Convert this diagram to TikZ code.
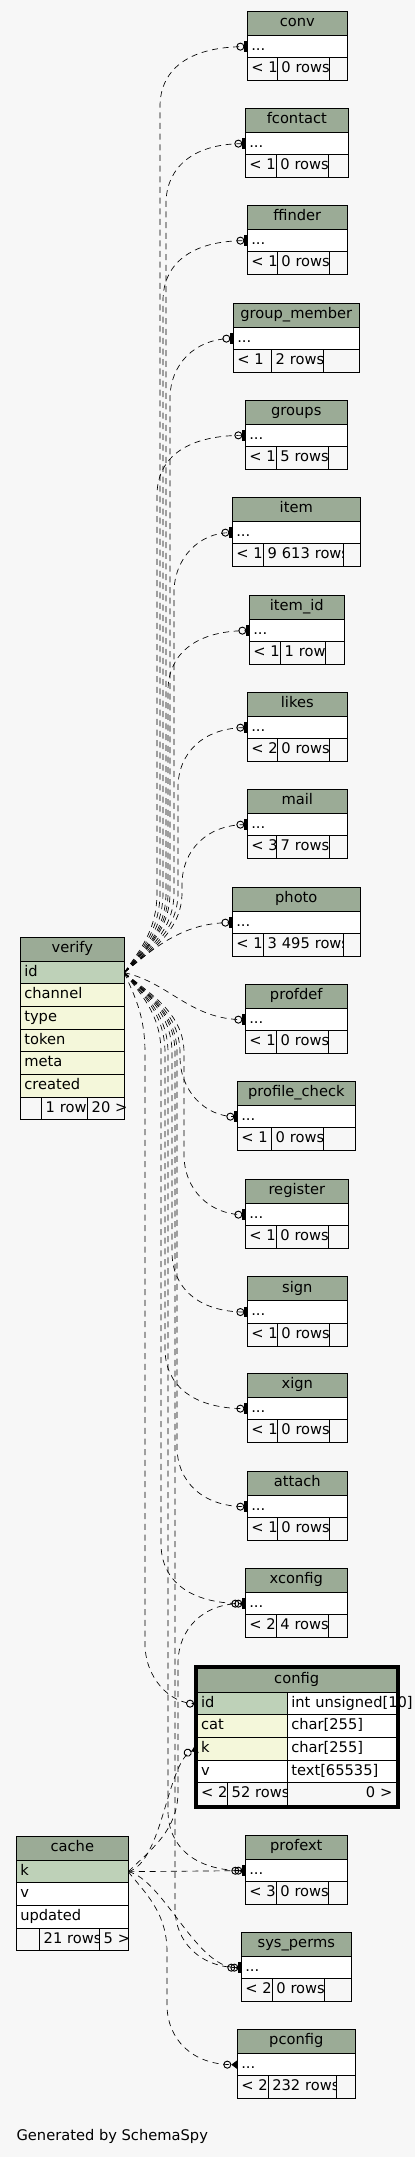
\documentclass[tikz,border=0pt]{standalone}
\usepackage{fontspec}
\setmainfont{DejaVu Sans}
\usetikzlibrary{arrows.meta,positioning,calc}

\definecolor{pagebg}{HTML}{F7F7F7}
\definecolor{headbg}{HTML}{9BAB96}
\definecolor{keybg}{HTML}{BED1B8}
\definecolor{idxbg}{HTML}{F4F7DA}

% child table: name, title, left, top, footer cell widths (px), parents, rows
\newcommand{\minitable}[9]{%
  \node[hdr, minimum width={(#5+#6+#7)*0.75pt}, anchor=north west] (#1) at (#3,#4) {#2};
  \node[cell, wide={#5+#6+#7}, below=0pt of #1] (#1-r) {...};
  \node[foot, wide=#5, anchor=north west] (#1-p) at (#1-r.south west) {\mbox{< #8}};
  \node[foot, wide=#6, right=0pt of #1-p] (#1-n) {\mbox{#9}};
  \node[foot, wide=#7, right=0pt of #1-n] (#1-c) {};
}

\begin{document}
\begin{tikzpicture}[x=0.75pt, y=-0.75pt, font=\fontsize{11}{13}\selectfont,
  box/.style={draw, line width=0.75pt, outer sep=0pt, inner xsep=3pt, inner ysep=0pt, text height=8pt, text depth=2.5pt},
  hdr/.style={box, fill=headbg, minimum height=18pt},
  cell/.style={box, fill=white, minimum height=17pt, align=left},
  foot/.style={cell, fill=pagebg},
  wide/.style={text width={(#1)*0.75pt-6pt}},
  fk/.style={draw, line width=0.5pt, dash pattern=on 4.5pt off 3.5pt, -{Circle[open,length=6pt,line width=0.7pt] Bar[width=8pt,line width=2.2pt]}},
  crow/.style={-{Circle[open,length=6pt,line width=0.7pt] Triangle[reversed,length=4.5pt,width=6.5pt]}},
  hop/.style 2 args={to path={.. controls +(#1) and +(#2) .. (\tikztotarget)}},
  bus/.style={to path={let \p1=(\tikztostart), \p2=(\tikztotarget), \n1={2*(\y2>\y1)-1} in
      .. controls ({0.6*\x1+0.3*#1pt},{\y1+(\n1)*15pt}) and ({0.75*#1pt},{\y1+(\n1)*30pt}) .. ({0.75*#1pt},{\y1+(\n1)*60pt})
      -- ({0.75*#1pt},{\y2-(\n1)*45pt})
      .. controls ({0.75*#1pt},{\y2-(\n1)*19pt}) and ({0.75*#1pt+19pt},\y2) .. (\p2)}}]

  \useasboundingbox (0,0) rectangle (415,2157);
  \fill[pagebg] (0,0) rectangle (415,2157);

  % children of verify and cache
  \minitable{conv}{conv}{247.3}{11.3}{30}{52}{18}{1}{0 rows}
  \minitable{fcontact}{fcontact}{245.3}{108.3}{31}{52}{20}{1}{0 rows}
  \minitable{ffinder}{ffinder}{247.3}{205.3}{30}{52}{18}{1}{0 rows}
  \minitable{gm}{group\_member}{233.3}{303.3}{38.4}{52}{35.6}{1}{2 rows}
  \minitable{groups}{groups}{245.3}{400}{31}{52}{19}{1}{5 rows}
  \minitable{item}{item}{232.3}{497.3}{31.4}{80}{16.6}{1}{9 613 rows}
  \minitable{itemid}{item\_id}{249.3}{595.3}{31.4}{44.6}{19}{1}{1 row}
  \minitable{likes}{likes}{247.3}{692.3}{30}{52}{18}{2}{0 rows}
  \minitable{mail}{mail}{247.3}{789.3}{29.4}{52.6}{18}{3}{7 rows}
  \minitable{photo}{photo}{232.3}{887.3}{31.4}{80}{16.6}{1}{3 495 rows}
  \minitable{profdef}{profdef}{245.3}{984.3}{31.4}{51.6}{19}{1}{0 rows}
  \minitable{pcheck}{profile\_check}{237.3}{1081.3}{34.4}{51.6}{32}{1}{0 rows}
  \minitable{register}{register}{245.3}{1179.3}{31}{52}{20}{1}{0 rows}
  \minitable{sign}{sign}{247.3}{1276.7}{30}{52}{18}{1}{0 rows}
  \minitable{xign}{xign}{247.3}{1373.3}{30}{52}{18}{1}{0 rows}
  \minitable{attach}{attach}{247.3}{1471.3}{30}{52}{18}{1}{0 rows}
  \minitable{xconfig}{xconfig}{245.3}{1568.3}{31}{52}{19}{2}{4 rows}
  \minitable{profext}{profext}{245.3}{1835.3}{31}{52}{19}{3}{0 rows}
  \minitable{sysperms}{sys\_perms}{241.3}{1932.3}{31}{52}{27}{2}{0 rows}
  \minitable{pconfig}{pconfig}{237.3}{2029.3}{31}{68}{19}{2}{232 rows}

  % verify
  \node[hdr, minimum width={104*0.75pt}, anchor=north west] (verify) at (20.3,937.3) {verify};
  \node[cell, wide=104, fill=keybg, below=0pt of verify] (verify-id) {id};
  \node[cell, wide=104, fill=idxbg, below=0pt of verify-id] (verify-channel) {channel};
  \node[cell, wide=104, fill=idxbg, below=0pt of verify-channel] (verify-type) {type};
  \node[cell, wide=104, fill=idxbg, below=0pt of verify-type] (verify-token) {token};
  \node[cell, wide=104, fill=idxbg, below=0pt of verify-token] (verify-meta) {meta};
  \node[cell, wide=104, fill=idxbg, below=0pt of verify-meta] (verify-created) {created};
  \node[foot, wide=21.4, anchor=north west] (verify-p) at (verify-created.south west) {};
  \node[foot, wide=46, right=0pt of verify-p] (verify-n) {\mbox{1 row}};
  \node[foot, wide=36.6, align=right, right=0pt of verify-n] (verify-c) {\mbox{20 >}};

  % cache
  \node[hdr, minimum width={112*0.75pt}, anchor=north west] (cache) at (16.3,1836.3) {cache};
  \node[cell, wide=112, fill=keybg, below=0pt of cache] (cache-k) {k};
  \node[cell, wide=112, below=0pt of cache-k] (cache-v) {v};
  \node[cell, wide=112, below=0pt of cache-v] (cache-updated) {updated};
  \node[foot, wide=23.4, anchor=north west] (cache-p) at (cache-updated.south west) {};
  \node[foot, wide=60, right=0pt of cache-p] (cache-n) {\mbox{21 rows}};
  \node[foot, wide=28.6, align=right, right=0pt of cache-n] (cache-c) {\mbox{5 >}};

  % config (focus table)
  \node[hdr, minimum width={199.3*0.75pt}, anchor=north west] (config) at (197,1668.3) {config};
  \node[cell, wide=90.3, fill=keybg, anchor=north west] (config-id) at (config.south west) {id};
  \node[cell, wide=109, right=0pt of config-id] (config-id-t) {\mbox{int unsigned[10]}};
  \node[cell, wide=90.3, fill=idxbg, below=0pt of config-id] (config-cat) {cat};
  \node[cell, wide=109, right=0pt of config-cat] (config-cat-t) {char[255]};
  \node[cell, wide=90.3, fill=idxbg, below=0pt of config-cat] (config-k) {k};
  \node[cell, wide=109, right=0pt of config-k] (config-k-t) {char[255]};
  \node[cell, wide=90.3, below=0pt of config-k] (config-v) {v};
  \node[cell, wide=109, right=0pt of config-v] (config-v-t) {text[65535]};
  \node[foot, wide=30.7, anchor=north west] (config-p) at (config-v.south west) {\mbox{< 2}};
  \node[foot, wide=59.6, right=0pt of config-p] (config-n) {\mbox{52 rows}};
  \node[foot, wide=109, align=right, right=0pt of config-n] (config-c) {\mbox{0 >}};
  \draw[line width=2.4pt] ($(config.north west)+(-1.6,-1.6)$) rectangle ($(config-c.south east)+(1.6,1.6)$);

  \node[anchor=base west, inner sep=0pt] (credit) at (16.3,2140.7) {Generated by SchemaSpy};

  \path[every edge/.style={fk}]
    (verify-id.east) edge[bus=160] (conv-r.west)
    (verify-id.east) edge[bus=166] (fcontact-r.west)
    (verify-id.east) edge[bus=163] (ffinder-r.west)
    (verify-id.east) edge[bus=170] (gm-r.west)
    (verify-id.east) edge[bus=157] (groups-r.west)
    (verify-id.east) edge[bus=174] (item-r.west)
    (verify-id.east) edge[bus=168] (itemid-r.west)
    (verify-id.east) edge[bus=178] (likes-r.west)
    (verify-id.east) edge[bus=182] (mail-r.west)
    (verify-id.east) edge[hop={35,-30}{-45,0}] (photo-r.west)
    (verify-id.east) edge[hop={45,10}{-55,0}] (profdef-r.west)
    (verify-id.east) edge[bus=180] (pcheck-r.west)
    (verify-id.east) edge[bus=184] (register-r.west)
    (verify-id.east) edge[bus=172] (sign-r.west)
    (verify-id.east) edge[bus=165] (xign-r.west)
    (verify-id.east) edge[bus=177] (attach-r.west)
    (verify-id.east) edge[bus=161] (xconfig-r.west)
    (verify-id.east) edge[bus=145] (config-id.west)
    (verify-id.east) edge[bus=168] (profext-r.west)
    (verify-id.east) edge[bus=175] (sysperms-r.west)
    (cache-k.east) edge[crow, bus=178] (xconfig-r.west)
    (cache-k.east) edge[crow, hop={35,-10}{-30,12}] (config-k.west)
    (cache-k.east) edge[crow] (profext-r.west)
    (cache-k.east) edge[crow, hop={35,8}{-45,0}] (sysperms-r.west)
    (cache-k.east) edge[crow, bus=167] (pconfig-r.west);
\end{tikzpicture}
\end{document}
